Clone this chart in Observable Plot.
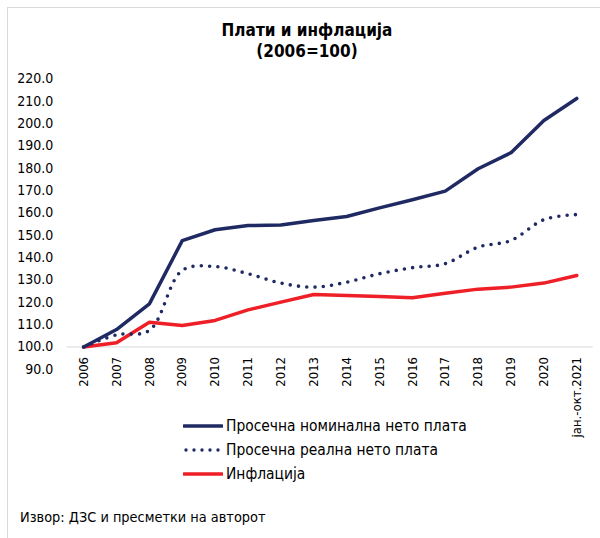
<!DOCTYPE html>
<html>
<head>
<meta charset="utf-8">
<script src="https://cdn.jsdelivr.net/npm/d3@7"></script>
<script src="https://cdn.jsdelivr.net/npm/@observablehq/plot@0.6"></script>
<style>
  html, body { margin: 0; padding: 0; background: #fff; }
  #wrap { position: relative; width: 600px; height: 538px; overflow: hidden; font-family: "DejaVu Sans Condensed", "DejaVu Sans", sans-serif; color: #000; }
  #border { position: absolute; left: 7px; top: 7px; width: 640px; height: 640px; border-top: 1px solid #d9d9d9; border-left: 1px solid #d9d9d9; }
  #title { position: absolute; left: 307px; top: 20px; transform: translateX(-50%); text-align: center; font-weight: bold; font-size: 17px; line-height: 21px; white-space: nowrap; }
  #chart { position: absolute; left: 0; top: 65px; }
  #legend { position: absolute; left: 183px; top: 414px; font-size: 15.4px; }
  .li { display: flex; align-items: center; height: 24px; white-space: nowrap; }
  .li svg { margin-right: 3px; }
  #caption { position: absolute; left: 20px; top: 509px; font-size: 14.4px; white-space: nowrap; }
</style>
</head>
<body>
<div id="wrap">
  <div id="border"></div>
  <div id="title">Плати и инфлација<br>(2006=100)</div>
  <div id="chart"></div>
  <div id="legend"></div>
  <div id="caption">Извор: ДЗС и пресметки на авторот</div>
</div>
<script>
const years = ["2006","2007","2008","2009","2010","2011","2012","2013","2014","2015","2016","2017","2018","2019","2020","јан.-окт.2021"];
const nominal = [100, 107.8, 119.3, 147.6, 152.5, 154.4, 154.6, 156.6, 158.4, 162.3, 165.9, 169.8, 179.8, 187.0, 201.4, 211.3];
const real = [100, 105.4, 107.4, 134.3, 136.0, 132.8, 128.6, 126.8, 129.0, 132.8, 135.5, 137.3, 144.7, 147.7, 157.0, 159.3];
const inflation = [100, 101.9, 111.1, 109.6, 111.9, 116.6, 120.1, 123.5, 123.1, 122.6, 122.0, 124.1, 125.9, 126.8, 128.6, 132.0];
const yTicks = [90, 100, 110, 120, 130, 140, 150, 160, 170, 180, 190, 200, 210, 220];
const seriesNames = ["Просечна номинална нето плата", "Просечна реална нето плата", "Инфлација"];

const navy = "#1f2a63";
const red = "#ee1f26";

const rows = (vals) => years.map((yr, i) => ({year: yr, value: vals[i]}));

const chart = Plot.plot({
  width: 600,
  height: 380,
  marginTop: 13.5,
  marginBottom: 76.2,
  marginLeft: 66.7,
  marginRight: 7.3,
  style: {background: "transparent", fontFamily: "'DejaVu Sans Condensed', 'DejaVu Sans', sans-serif", fontSize: "14px", color: "#000", overflow: "visible"},
  x: {type: "point", domain: years, padding: 0.5, round: false, axis: null},
  y: {domain: [90, 220], ticks: yTicks, tickFormat: d => d.toFixed(1), tickSize: 0, tickPadding: 14, label: null},
  marks: [
    Plot.ruleY([100], {stroke: "#d9d9d9", strokeWidth: 1}),
    Plot.line(rows(inflation), {x: "year", y: "value", stroke: red, strokeWidth: 3.5, strokeLinejoin: "round", strokeLinecap: "round"}),
    Plot.line(rows(real), {x: "year", y: "value", stroke: navy, strokeWidth: 3.6, curve: "catmull-rom", strokeDasharray: "0,8.3", strokeLinecap: "round"}),
    Plot.line(rows(nominal), {x: "year", y: "value", stroke: navy, strokeWidth: 3.5, strokeLinejoin: "round", strokeLinecap: "round"}),
    Plot.text(years, {x: d => d, y: () => 100, text: d => d, rotate: -90, textAnchor: "end", dy: 10, fontSize: 13, fill: "#000"})
  ]
});
document.getElementById("chart").appendChild(chart);

const legend = document.getElementById("legend");
const styles = [
  {stroke: navy, dash: null},
  {stroke: navy, dash: "0,8"},
  {stroke: red, dash: null}
];
seriesNames.forEach((name, i) => {
  const s = styles[i];
  const div = document.createElement("div");
  div.className = "li";
  div.innerHTML = `<svg width="40" height="8"><line x1="${s.dash ? 3 : 1}" y1="4" x2="${s.dash ? 37 : 39}" y2="4" stroke="${s.stroke}" stroke-width="${s.dash ? 3.4 : 3.5}" stroke-linecap="round" ${s.dash ? `stroke-dasharray="${s.dash}"` : ""}/></svg><span>${name}</span>`;
  legend.appendChild(div);
});
</script>
</body>
</html>
